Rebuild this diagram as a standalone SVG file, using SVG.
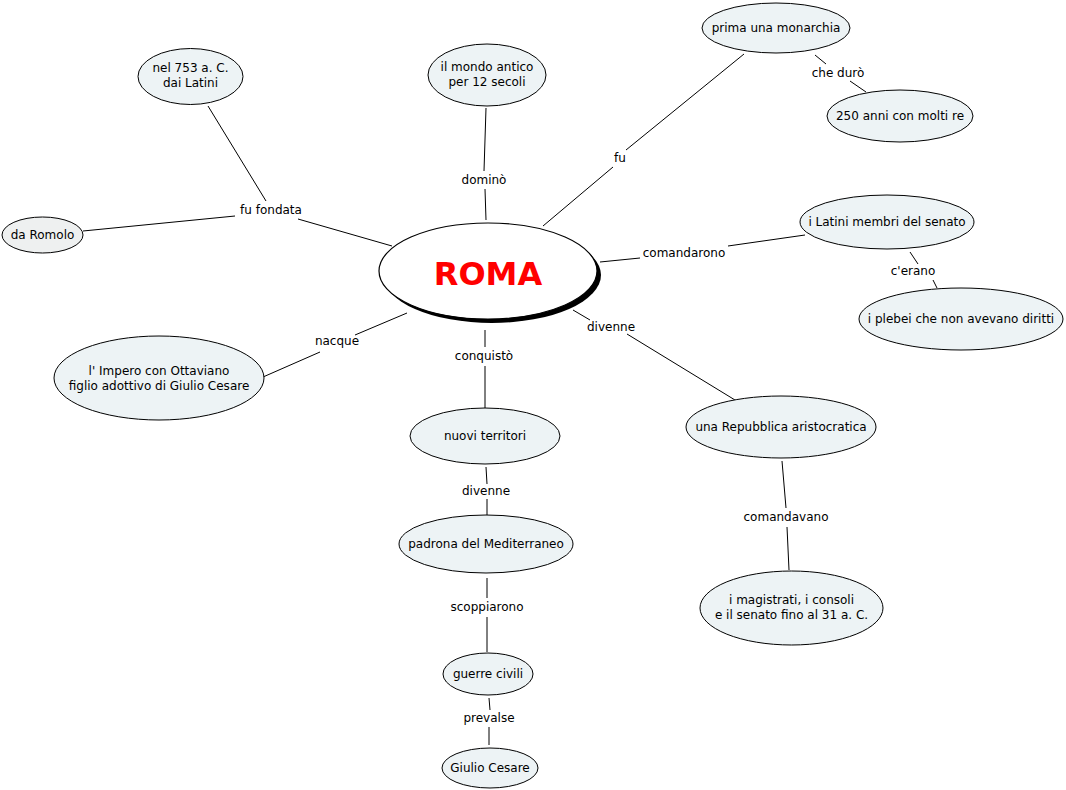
<svg xmlns="http://www.w3.org/2000/svg" width="1066" height="790" viewBox="0 0 1066 790">
<style>
.n{fill:#EDF3F5;stroke:#000;stroke-width:1}
.g{fill:#EEF0F0;stroke:#000;stroke-width:1}
.t{font-family:"DejaVu Sans",Verdana,sans-serif;font-size:12px;fill:#000;text-anchor:middle}
.c line{stroke:#000;stroke-width:1}
</style>
<rect width="1066" height="790" fill="#fff"/>
<g id="connectors" class="c">
<line x1="208" y1="106" x2="266" y2="201"/>
<line x1="83" y1="231" x2="235" y2="216"/>
<line x1="298" y1="219" x2="392" y2="246"/>
<line x1="486" y1="108" x2="484" y2="171"/>
<line x1="485" y1="189" x2="486" y2="220"/>
<line x1="744" y1="54" x2="626" y2="150"/>
<line x1="613" y1="167" x2="543" y2="226"/>
<line x1="815" y1="55" x2="826" y2="64"/>
<line x1="850" y1="81" x2="866" y2="92"/>
<line x1="600" y1="262" x2="640" y2="258"/>
<line x1="728" y1="246" x2="805" y2="235"/>
<line x1="910" y1="252" x2="918" y2="264"/>
<line x1="933" y1="280" x2="937" y2="288"/>
<line x1="573" y1="310" x2="590" y2="320"/>
<line x1="627" y1="334" x2="735" y2="400"/>
<line x1="782" y1="461" x2="786" y2="508"/>
<line x1="787" y1="527" x2="789" y2="570"/>
<line x1="407" y1="313" x2="355" y2="335"/>
<line x1="320" y1="352" x2="263" y2="377"/>
<line x1="485" y1="330" x2="485" y2="347"/>
<line x1="485" y1="366" x2="485" y2="409"/>
<line x1="486" y1="467" x2="487" y2="484"/>
<line x1="487" y1="499" x2="487" y2="516"/>
<line x1="487" y1="578" x2="487" y2="598"/>
<line x1="487" y1="617" x2="487" y2="652"/>
<line x1="489" y1="698" x2="490" y2="710"/>
<line x1="489" y1="727" x2="489" y2="745"/>
<g id="labels">
<text class="t" x="271" y="214">fu fondata</text>
<text class="t" x="484" y="184">dominò</text>
<text class="t" x="620" y="162">fu</text>
<text class="t" x="838" y="77">che durò</text>
<text class="t" x="684" y="257">comandarono</text>
<text class="t" x="913" y="275">c'erano</text>
<text class="t" x="611" y="331">divenne</text>
<text class="t" x="786" y="521">comandavano</text>
<text class="t" x="337" y="345">nacque</text>
<text class="t" x="484" y="360">conquistò</text>
<text class="t" x="486" y="495">divenne</text>
<text class="t" x="487" y="611">scoppiarono</text>
<text class="t" x="489" y="722">prevalse</text>
</g>
</g>
<g id="roma">
<ellipse cx="492" cy="275" rx="109" ry="48" fill="#000"/>
<ellipse cx="488" cy="271" rx="109" ry="48" fill="#fff" stroke="#000" stroke-width="1.2"/>
<text x="488" y="285" style="font-family:'DejaVu Sans',Verdana,sans-serif;font-size:32px;font-weight:bold;fill:#F00;text-anchor:middle">ROMA</text>
</g>
<g id="n753"><ellipse class="n" cx="190.5" cy="76.5" rx="52.5" ry="28"/><text class="t" x="190.5" y="72">nel 753 a. C.</text><text class="t" x="190.5" y="87">dai Latini</text></g>
<g id="romolo"><ellipse class="g" cx="42.5" cy="235" rx="40.5" ry="18"/><text class="t" x="42.5" y="239">da Romolo</text></g>
<g id="mondo"><ellipse class="n" cx="487" cy="75" rx="59" ry="31"/><text class="t" x="487" y="71">il mondo antico</text><text class="t" x="487" y="86">per 12 secoli</text></g>
<g id="monarchia"><ellipse class="n" cx="776" cy="28" rx="74" ry="25"/><text class="t" x="776" y="32">prima una monarchia</text></g>
<g id="anni"><ellipse class="n" cx="900" cy="116" rx="73" ry="26"/><text class="t" x="900" y="120">250 anni con molti re</text></g>
<g id="latini"><ellipse class="n" cx="887" cy="222" rx="87" ry="27"/><text class="t" x="887" y="226">i Latini membri del senato</text></g>
<g id="plebei"><ellipse class="n" cx="961" cy="319" rx="102" ry="31"/><text class="t" x="961" y="323">i plebei che non avevano diritti</text></g>
<g id="repubblica"><ellipse class="n" cx="781" cy="427" rx="95" ry="31"/><text class="t" x="781" y="431">una Repubblica aristocratica</text></g>
<g id="magistrati"><ellipse class="n" cx="791.5" cy="608" rx="91.5" ry="37"/><text class="t" x="791.5" y="604">i magistrati, i consoli</text><text class="t" x="791.5" y="619">e il senato fino al 31 a. C.</text></g>
<g id="impero"><ellipse class="n" cx="159" cy="378" rx="105" ry="42"/><text class="t" x="159" y="375">l' Impero con Ottaviano</text><text class="t" x="159" y="390">figlio adottivo di Giulio Cesare</text></g>
<g id="territori"><ellipse class="n" cx="485" cy="436" rx="75" ry="28"/><text class="t" x="485" y="440">nuovi territori</text></g>
<g id="padrona"><ellipse class="n" cx="486" cy="544" rx="87" ry="29"/><text class="t" x="486" y="548">padrona del Mediterraneo</text></g>
<g id="guerre"><ellipse class="n" cx="488" cy="674" rx="45" ry="21"/><text class="t" x="488" y="678">guerre civili</text></g>
<g id="cesare"><ellipse class="n" cx="490" cy="768" rx="48" ry="20"/><text class="t" x="490" y="772">Giulio Cesare</text></g>
</svg>
